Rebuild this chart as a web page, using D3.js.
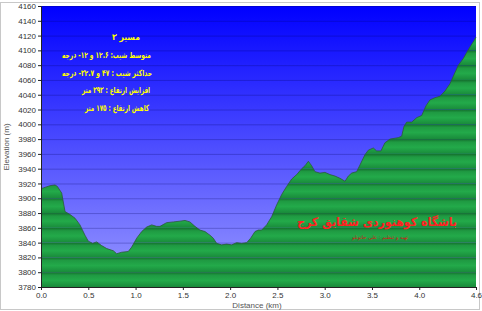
<!DOCTYPE html>
<html>
<head>
<meta charset="utf-8">
<script src="https://cdn.jsdelivr.net/npm/d3@7/dist/d3.min.js"></script>
<style>
body { margin: 0; background: #fff; }
text { font-family: "Liberation Sans", Arial, sans-serif; }
</style>
</head>
<body>
<svg width="482" height="311"></svg>
<script>
var dist = [0.000, 0.025, 0.095, 0.148, 0.173, 0.219, 0.254, 0.307, 0.360, 0.412, 0.465, 0.500, 0.546, 0.589, 0.641, 0.695, 0.765, 0.800, 0.853, 0.923, 0.959,
	1.012, 1.065, 1.117, 1.170, 1.223, 1.258, 1.328, 1.399, 1.469, 1.523, 1.575, 1.628, 1.681, 1.734, 1.787, 1.822, 1.857, 1.910, 1.963,
	2.016, 2.069, 2.122, 2.175, 2.217, 2.263, 2.298, 2.333, 2.386, 2.439, 2.492, 2.545, 2.598, 2.651, 2.704, 2.757, 2.792, 2.827, 2.862, 2.897, 2.950,
	3.003, 3.056, 3.109, 3.162, 3.215, 3.250, 3.285, 3.338, 3.373, 3.426, 3.461, 3.514, 3.550, 3.595, 3.637, 3.690, 3.778, 3.814, 3.838, 3.867, 3.920, 3.973,
	4.026, 4.071, 4.113, 4.166, 4.219, 4.272, 4.325, 4.360, 4.413, 4.466, 4.501, 4.543, 4.578, 4.600];
var elev = [3913, 3914, 3917, 3918, 3916, 3907, 3882, 3878, 3873, 3864, 3850, 3842, 3839, 3841, 3836, 3832, 3829, 3825, 3827, 3828, 3834,
	3846, 3855, 3861, 3864, 3862, 3862, 3867, 3868, 3869, 3870, 3868, 3862, 3857, 3855, 3850, 3846, 3839, 3837, 3838,
	3837, 3840, 3839, 3840, 3846, 3855, 3857, 3857, 3864, 3875, 3891, 3905, 3916, 3926, 3932, 3940, 3944, 3950, 3944, 3936, 3934,
	3935, 3932, 3930, 3927, 3923, 3930, 3934, 3936, 3945, 3959, 3965, 3968, 3964, 3964, 3975, 3980, 3982, 3984, 3997, 4003, 4003, 4009,
	4012, 4025, 4033, 4036, 4038, 4045, 4055, 4065, 4080, 4089, 4097, 4106, 4113, 4118];

var yTicks = d3.range(3780, 4161, 20);
var xTicks = [0, 0.5, 1.0, 1.5, 2.0, 2.5, 3.0, 3.5, 4.0, 4.6];

var infoLines = [
	"مسیر ۳",
	"متوسط شیب: ۱۲.۶ و ۱۲- درجه",
	"حداکثر شیب : ۴۷ و ۳۲.۷- درجه",
	"افزایش ارتفاع : ۳۹۳ متر",
	"کاهش ارتفاع : ۱۷۵ متر"
];
var infoCenter = [126, 106.5, 107, 116, 117];
var infoWidth = [28, 89, 90, 68, 64];
var clubName = "باشگاه کوهنوردی شقایق کرج";
var credit = "تهیه و تنظیم : علی حاتونلو";

var svg = d3.select("svg"),
	margin = {top: 6, right: 6, bottom: 24, left: 41},
	width = +svg.attr("width") - margin.left - margin.right,
	height = +svg.attr("height") - margin.top - margin.bottom;

var data = dist.map(function(d, i) { return {d: d, e: elev[i]}; });

var x = d3.scaleLinear().domain([0, 4.6]).range([0, width]);
var y = d3.scaleLinear().domain([3780, 4160]).range([height, 0]);

var defs = svg.append("defs");
var sky = defs.append("linearGradient").attr("id", "sky")
	.attr("x1", 0).attr("y1", 0).attr("x2", 0).attr("y2", 1);
sky.append("stop").attr("offset", "0%").attr("stop-color", "#0000ff");
sky.append("stop").attr("offset", "100%").attr("stop-color", "#9a9aff");

var band = defs.append("linearGradient").attr("id", "band")
	.attr("x1", 0).attr("y1", 0).attr("x2", 0).attr("y2", 1);
band.append("stop").attr("offset", "0%").attr("stop-color", "#146e2e");
band.append("stop").attr("offset", "20%").attr("stop-color", "#1f9a42");
band.append("stop").attr("offset", "55%").attr("stop-color", "#23aa4a");
band.append("stop").attr("offset", "100%").attr("stop-color", "#198a3a");

var area = d3.area()
	.x(function(d) { return x(d.d); })
	.y0(height)
	.y1(function(d) { return y(d.e); });

defs.append("clipPath").attr("id", "terrain")
	.append("path").datum(data).attr("d", area);

// outer frame
svg.append("rect")
	.attr("x", 0.5).attr("y", 2.5)
	.attr("width", 479).attr("height", 307)
	.attr("fill", "none")
	.attr("stroke", "#c8c8c8");

var g = svg.append("g").attr("transform", "translate(" + margin.left + "," + margin.top + ")");

g.append("rect")
	.attr("width", width)
	.attr("height", height)
	.attr("fill", "url(#sky)");

g.append("g").selectAll("line")
	.data(yTicks)
	.enter().append("line")
	.attr("x1", 0).attr("x2", width)
	.attr("y1", function(d) { return y(d) + 0.5; })
	.attr("y2", function(d) { return y(d) + 0.5; })
	.attr("stroke", "#000060")
	.attr("stroke-opacity", 0.25);

g.append("g")
	.attr("clip-path", "url(#terrain)")
	.selectAll("rect")
	.data(yTicks.slice(1))
	.enter().append("rect")
	.attr("x", 0)
	.attr("width", width)
	.attr("y", function(d) { return y(d); })
	.attr("height", function(d) { return y(d - 20) - y(d); })
	.attr("fill", "url(#band)");

g.append("path")
	.datum(data)
	.attr("fill", "none")
	.attr("stroke", "#2b5a3a")
	.attr("stroke-width", 0.8)
	.attr("d", d3.line().x(function(d) { return x(d.d); }).y(function(d) { return y(d.e); }));

// axes
var ax = g.append("g")
	.attr("transform", "translate(0," + height + ")")
	.call(d3.axisBottom(x).tickValues(xTicks).tickFormat(d3.format(".1f")).tickSize(3).tickSizeOuter(0));
var ay = g.append("g")
	.call(d3.axisLeft(y).tickValues(yTicks).tickFormat(d3.format("d")).tickSize(3).tickSizeOuter(0));
[ax, ay].forEach(function(a) {
	a.select(".domain").attr("stroke", "#222");
	a.selectAll(".tick line").attr("stroke", "#222");
	a.selectAll(".tick text")
		.attr("font-family", "Liberation Sans, Arial, sans-serif")
		.attr("font-size", 8)
		.attr("fill", "#333");
});
ax.selectAll(".tick text").attr("y", 5).attr("dy", "0.71em");
ay.selectAll(".tick text").attr("x", -5);

svg.append("text")
	.attr("x", 257).attr("y", 308)
	.attr("text-anchor", "middle")
	.attr("font-size", 8)
	.attr("fill", "#555")
	.text("Distance  (km)");

svg.append("text")
	.attr("transform", "translate(9,147) rotate(-90)")
	.attr("text-anchor", "middle")
	.attr("font-size", 8)
	.attr("fill", "#555")
	.text("Elevation (m)");

// yellow info text
svg.append("g").selectAll("text")
	.data(infoLines)
	.enter().append("text")
	.attr("x", function(d, i) { return infoCenter[i]; })
	.attr("y", function(d, i) { return 40 + i * 17.8; })
	.attr("direction", "rtl")
	.attr("text-anchor", "middle")
	.attr("textLength", function(d, i) { return infoWidth[i]; })
	.attr("lengthAdjust", "spacingAndGlyphs")
	.style("font-family", "'DejaVu Sans', sans-serif")
	.attr("font-size", 8.5)
	.attr("font-weight", "bold")
	.attr("fill", "#ffff00")
	.text(function(d) { return d; });

svg.append("text")
	.attr("x", 297).attr("y", 226)
	.attr("textLength", 160)
	.attr("lengthAdjust", "spacingAndGlyphs")
	.style("font-family", "'DejaVu Sans', sans-serif")
	.attr("font-size", 12)
	.attr("font-weight", "bold")
	.attr("fill", "#ff2222")
	.text(clubName);

svg.append("text")
	.attr("x", 352).attr("y", 239)
	.attr("textLength", 56)
	.attr("lengthAdjust", "spacingAndGlyphs")
	.style("font-family", "'DejaVu Sans', sans-serif")
	.attr("font-size", 5)
	.attr("fill", "#d01818")
	.text(credit);
</script>
</body>
</html>
